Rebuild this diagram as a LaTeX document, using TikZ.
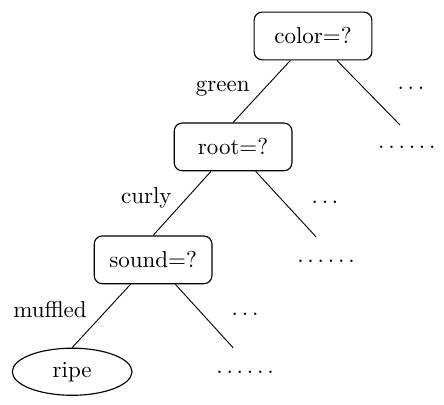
\documentclass[tikz,border=0pt]{standalone}
\usetikzlibrary{shapes.geometric}
\begin{document}
\begin{tikzpicture}[
		testbox/.style={draw, rounded corners=3.5pt, minimum width=1.8cm, minimum height=0.73cm, line width=0.5pt},
		leafnode/.style={draw, ellipse, minimum width=1.83cm, minimum height=0.72cm, inner sep=0pt, line width=0.5pt}
	]
		\useasboundingbox (-4.786,0.550) rectangle (2.003,-5.642);
		\node [testbox] (color) at (0,0) {color=?};
		\node [testbox] (root) at (-1.222,-1.696) {root=?};
		\node [testbox] (sound) at (-2.445,-3.423) {sound=?};
		\node [leafnode] (ripe) at (-3.683,-5.134) {ripe};

		\node (d1) at (1.436,-1.696) {$\ldots\ldots$};
		\node (d2) at (0.199,-3.438) {$\ldots\ldots$};
		\node (d3) at (-1.039,-5.149) {$\ldots\ldots$};
		\coordinate (e1) at (1.329,-1.360);
		\coordinate (e2) at (0.046,-3.071);
		\coordinate (e3) at (-1.222,-4.767);

		\draw (color) -- (root.north);
		\draw (root) -- (sound.north);
		\draw (sound) -- (ripe.north);
		\draw (color) -- (e1);
		\draw (root) -- (e2);
		\draw (sound) -- (e3);

		\node [anchor=east] (green) at (-0.846,-0.810) {green};
		\node [anchor=east] (curly) at (-2.038,-2.475) {curly};
		\node [anchor=east] (muffled) at (-3.336,-4.187) {muffled};
		\node (l1) at (1.497,-0.795) {$\ldots$};
		\node (l2) at (0.183,-2.537) {$\ldots$};
		\node (l3) at (-1.039,-4.248) {$\ldots$};
	\end{tikzpicture}
\end{document}
